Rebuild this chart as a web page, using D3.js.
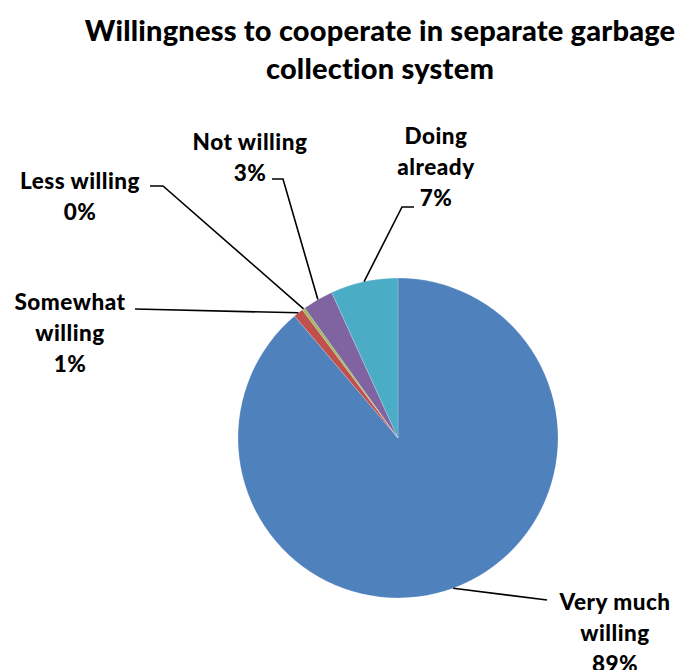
<!DOCTYPE html>
<html><head><meta charset="utf-8">
<script src="https://cdn.jsdelivr.net/npm/d3@7"></script>
<style>body{margin:0;background:#fff}svg{display:block}text{font-family:Lato,"Open Sans",sans-serif;font-weight:900;fill:#000}</style>
</head><body>
<script>
const categories = ["Very much willing","Somewhat willing","Less willing","Not willing","Doing already"];
const values = [88.8, 1.0, 0.3, 3.1, 6.8];
const percentLabels = ["89%","1%","0%","3%","7%"];
const colors = ["#4F81BD","#C0504D","#9BBB59","#8064A2","#4BACC6"];
const labelLines = [["Very much","willing","89%"],["Somewhat","willing","1%"],["Less willing","0%"],["Not willing","3%"],["Doing","already","7%"]];

// layout (label anchor x, first baseline y, elbow point)
const layout = [
  {x:615, y:610, ex:547, ey:600},
  {x:70, y:310, ex:135, ey:309},
  {x:80, y:189, ex:150, ey:186, ex2:163},
  {x:250, y:150, ex:272, ey:179, ex2:283},
  {x:436, y:144, ex:414, ey:207, ex2:402}
];

const W=687,H=670, cx=398, cy=438, R=160;
const svg=d3.select("body").append("svg").attr("width",W).attr("height",H);

svg.append("text").attr("x",380).attr("y",41).attr("text-anchor","middle").style("font-size","29px").style("letter-spacing","0.2px").text("Willingness to cooperate in separate garbage");
svg.append("text").attr("x",380).attr("y",79).attr("text-anchor","middle").style("font-size","29px").style("letter-spacing","0.2px").text("collection system");

const pie=d3.pie().sort(null).value(d=>d)(values);
const arc=d3.arc().innerRadius(0).outerRadius(R);
const g=svg.append("g").attr("transform",`translate(${cx},${cy})`);
g.selectAll("path").data(pie).join("path").attr("d",arc).attr("fill",(d,i)=>colors[i]).attr("stroke","#fff").attr("stroke-width",0.4).attr("stroke-opacity",0.5);

pie.forEach((d,i)=>{
  const a=(d.startAngle+d.endAngle)/2;
  const px=cx+R*Math.sin(a), py=cy-R*Math.cos(a);
  const L=layout[i];
  const pts=[];
  if(L.ex2!==undefined) pts.push([L.ex,L.ey],[L.ex2,L.ey]); else pts.push([L.ex,L.ey]);
  pts.push([px,py]);
  svg.append("path").attr("d",d3.line()(pts)).attr("fill","none").attr("stroke","#000").attr("stroke-width",1.6);
  const t=svg.append("text").attr("text-anchor","middle").style("font-size","22.5px").style("letter-spacing","0.5px");
  labelLines[i].forEach((s,j)=>t.append("tspan").attr("x",L.x).attr("y",L.y+j*31).text(s));
});
</script>
</body></html>
